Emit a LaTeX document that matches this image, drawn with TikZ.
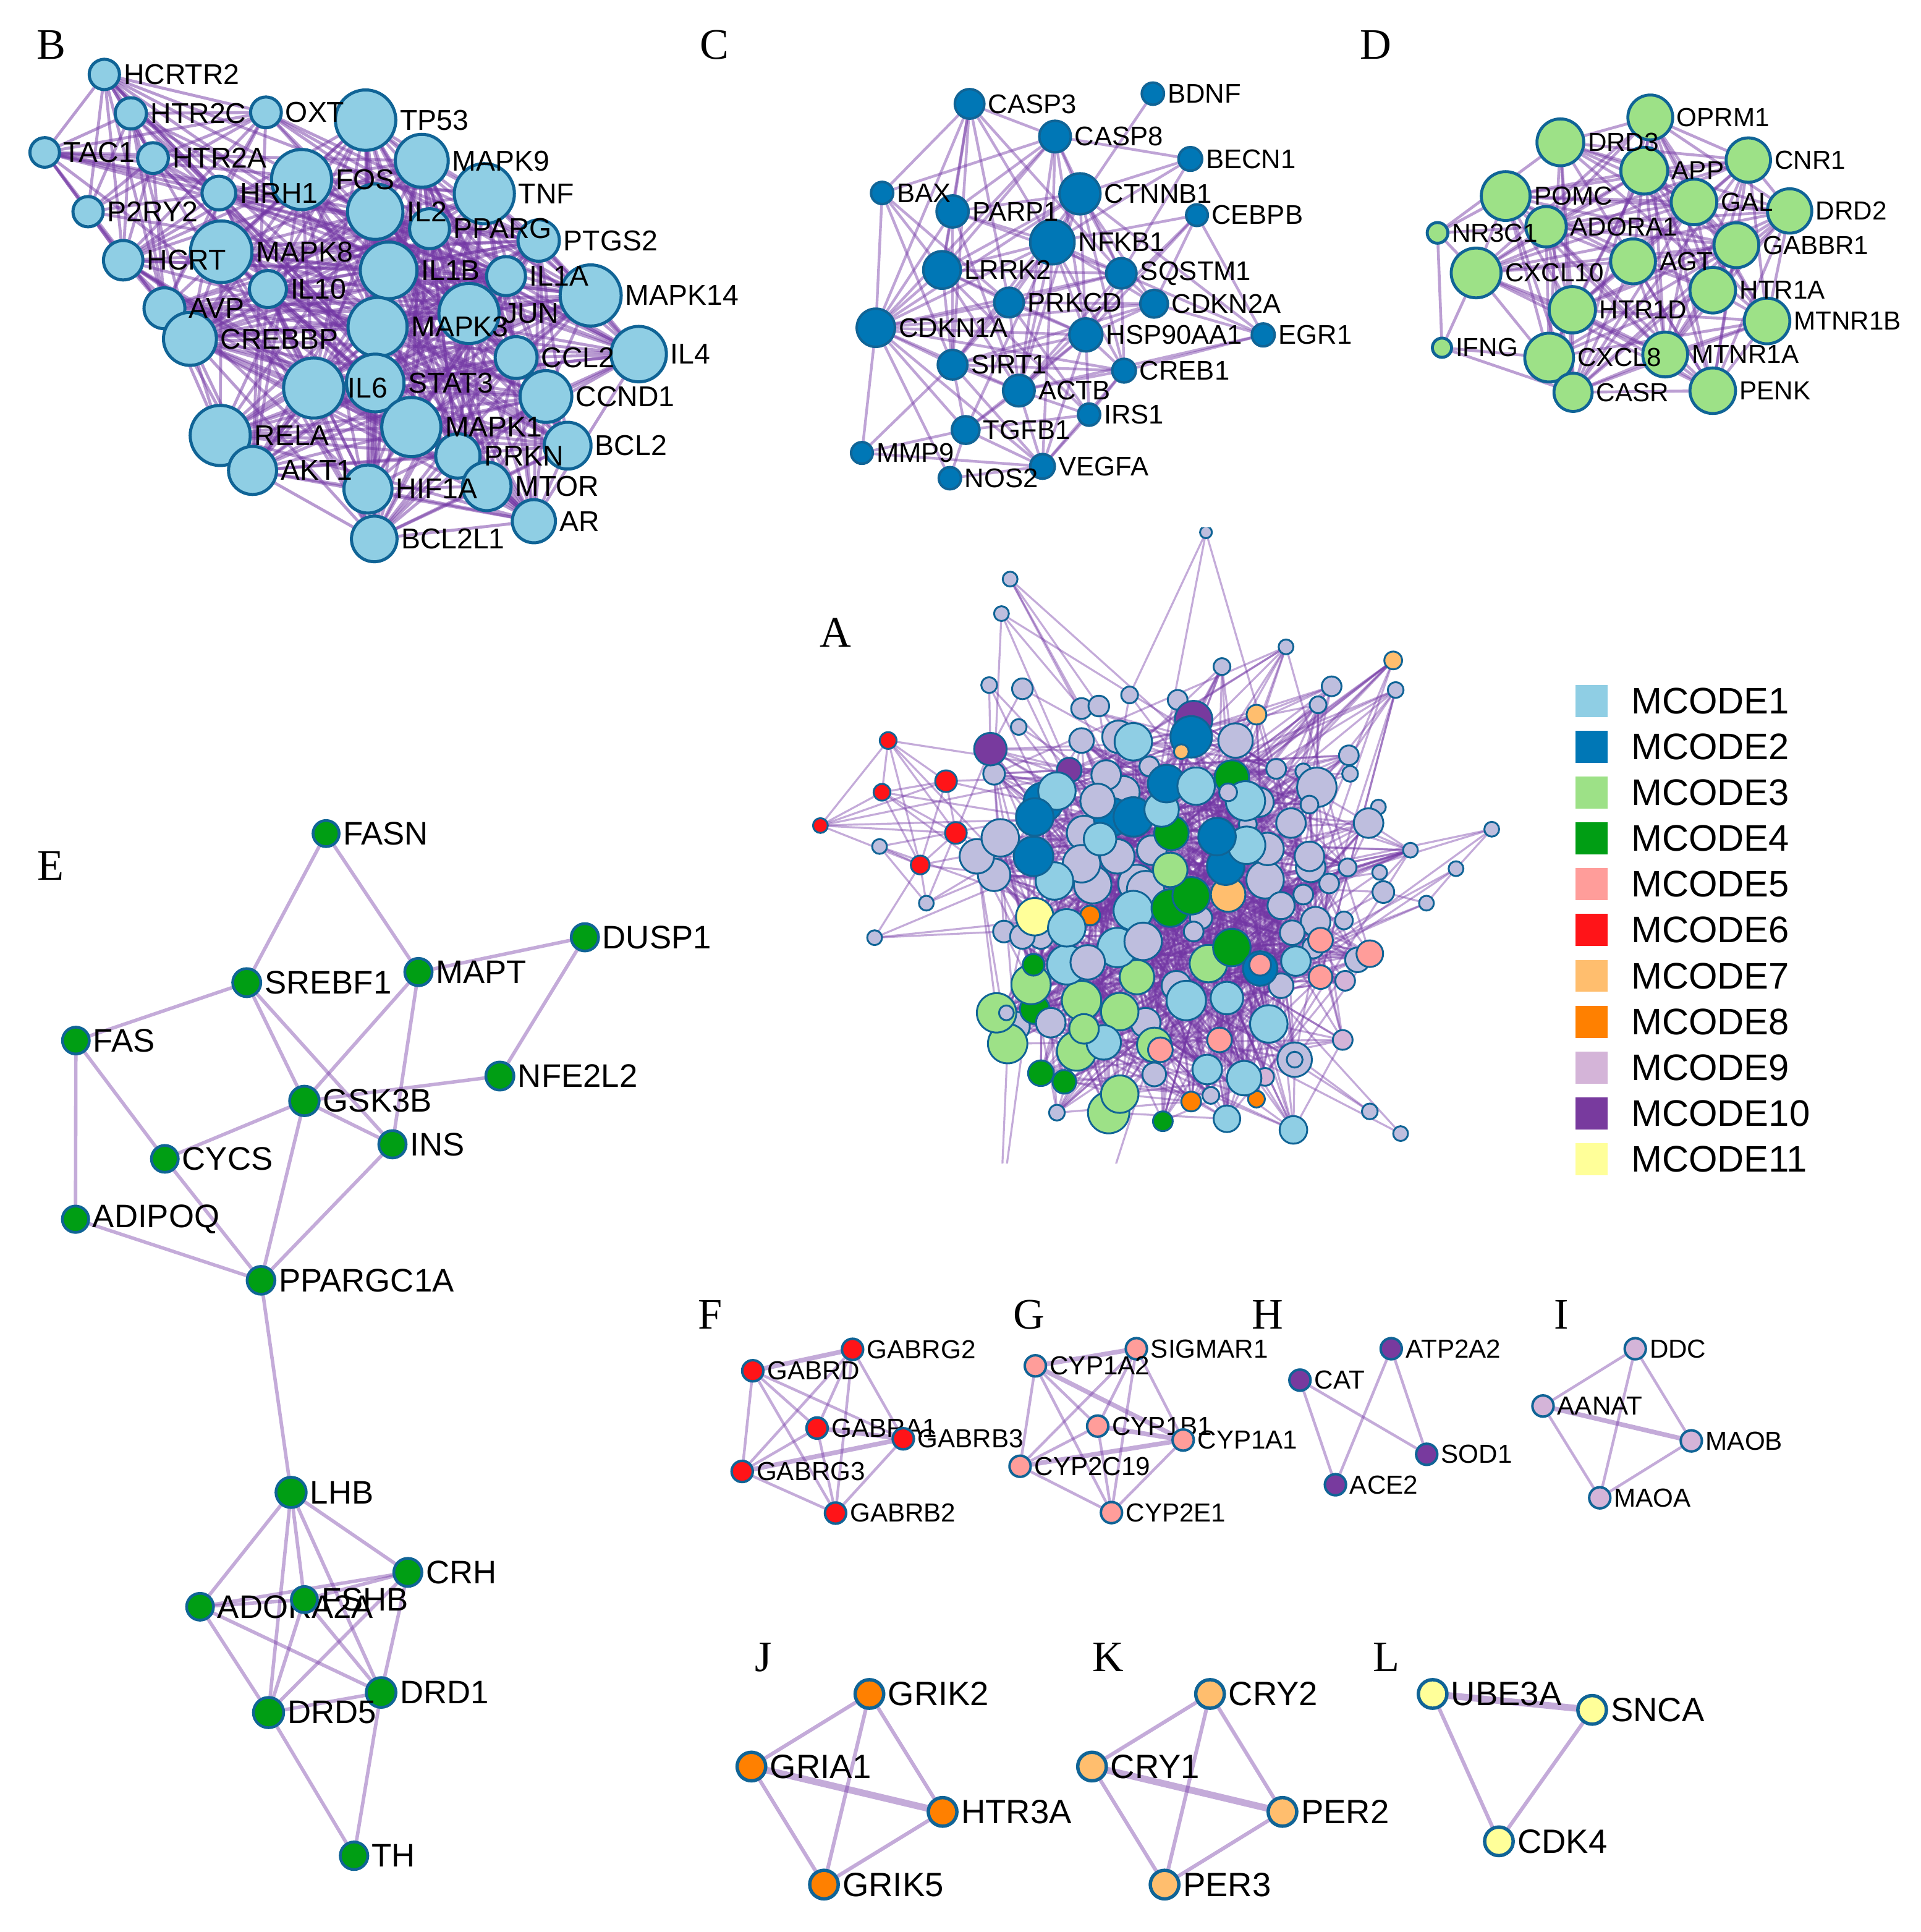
\documentclass[tikz,border=0pt]{standalone}
\usepackage{fontspec}
\setmainfont{Liberation Sans}
\newfontfamily\panelfont{Liberation Serif}
\definecolor{mc1}{RGB}{143,206,228}
\definecolor{mc2}{RGB}{0,119,182}
\definecolor{mc3}{RGB}{157,225,135}
\definecolor{mc4}{RGB}{0,158,20}
\definecolor{mc5}{RGB}{255,157,154}
\definecolor{mc6}{RGB}{255,20,24}
\definecolor{mc7}{RGB}{255,190,110}
\definecolor{mc8}{RGB}{255,128,0}
\definecolor{mc9}{RGB}{212,180,216}
\definecolor{mc10}{RGB}{120,58,158}
\definecolor{mc11}{RGB}{255,255,153}
\definecolor{oth}{RGB}{190,190,222}
\definecolor{bord}{RGB}{16,100,150}
\definecolor{edgec}{RGB}{115,55,165}
\pgfdeclarelayer{bottom}
\pgfdeclarelayer{edges}
\pgfsetlayers{bottom,edges,main}
\begin{document}
\begin{tikzpicture}[x=0.01993cm,y=-0.01993cm,
 sz/.style={minimum size={2*#1*0.01993cm}},
 gnode/.style={circle,draw=bord,inner sep=0pt},
 bnode/.style={gnode,fill=mc1,line width=0.05cm},
 cnode/.style={gnode,fill=mc2,line width=0.04cm},
 dnode/.style={gnode,fill=mc3,line width=0.048cm},
 anode/.style={gnode,line width=0.03cm},
 enode/.style={gnode,fill=mc4,line width=0.045cm},
 fnode/.style={gnode,line width=0.04cm,sz=8.6},
 jnode/.style={gnode,line width=0.055cm,sz=11.6},
 lbB/.style={font=\fontsize{13.2}{15}\selectfont,inner sep=1pt,anchor=west},
 lbC/.style={font=\fontsize{12.4}{14}\selectfont,inner sep=1pt,anchor=west},
 lbD/.style={font=\fontsize{12}{14}\selectfont,inner sep=1pt,anchor=west},
 lbE/.style={font=\fontsize{15}{17}\selectfont,inner sep=1pt},
 lbF/.style={font=\fontsize{12}{14}\selectfont,inner sep=1pt},
 lbJ/.style={font=\fontsize{15.5}{17}\selectfont,inner sep=1pt},
 pl/.style={font=\panelfont\fontsize{20}{24}\selectfont,anchor=base west,inner sep=0pt},
 bedge/.style={draw=edgec,opacity=0.5,line width=0.048cm},
 cedge/.style={draw=edgec,opacity=0.45,line width=0.044cm},
 dedge/.style={draw=edgec,opacity=0.48,line width=0.046cm},
 aedge/.style={draw=edgec,opacity=0.42,line width=0.032cm},
 eedge/.style={draw=edgec,opacity=0.42,line width=0.056cm},
 fedge/.style={draw=edgec,opacity=0.42,line width=0.044cm},
 fthick/.style={draw=edgec,opacity=0.42,line width=0.075cm},
 jedge/.style={draw=edgec,opacity=0.42,line width=0.06cm},
 jthick/.style={draw=edgec,opacity=0.42,line width=0.11cm}
]
\begin{pgfonlayer}{bottom}
\fill[white] (0,0) rectangle (1559,1568);
\end{pgfonlayer}
\path[use as bounding box] (0,0) rectangle (1559,1568);

% ---------------- panel letters
\node[pl] (pB) at (29.3,48) {B};
\node[pl] (pC) at (568,48) {C};
\node[pl] (pD) at (1104,48) {D};
\node[pl] (pA) at (665.2,525) {A};
\node[pl] (pE) at (29.9,714) {E};
\node[pl] (pF) at (566.3,1078.5) {F};
\node[pl] (pG) at (822.3,1078.5) {G};
\node[pl] (pH) at (1016,1078.5) {H};
\node[pl] (pI) at (1261.3,1078.5) {I};
\node[pl] (pJ) at (612.6,1356.4) {J};
\node[pl] (pK) at (886.5,1356.4) {K};
\node[pl] (pL) at (1114.4,1356.4) {L};

% ---------------- panel B
\def\Blist{HCRTR2/84.7/60.4/12.3, HTR2C/106.2/92/12.7, OXT/215.9/91.2/12.5, TAC1/36.3/123.7/12, HTR2A/124.2/128.3/12.5, P2RY2/71.5/171.8/12.3, HRH1/177.7/156.7/13.7, HCRT/100/211.2/16, AVP/133.5/250.2/16.6, TP53/296.8/97.5/24.5, FOS/244.8/145.7/24.4, MAPK9/342.4/130.5/21.5, TNF/393.2/157.2/24.4, PPARG/348.7/185.6/16.2, IL2/304.6/171.8/22.5, PTGS2/437.3/195.2/16.8, MAPK8/179.6/204.3/25, IL1B/315.5/219.4/23, IL1A/410.8/224.1/15.8, IL10/217.5/234.6/15, MAPK14/479.5/239.8/24.8, JUN/380.7/254.4/24.4, MAPK3/306.5/265.4/24, CREBBP/154.2/275/21.5, CCL2/419/290.2/17, IL4/518.5/287.4/22.5, STAT3/304.6/310.8/23.4, IL6/254.6/314.9/24.4, CCND1/443.2/321.8/21, RELA/178.8/353.4/24.4, MAPK1/333.9/346.6/24, BCL2/460.8/361.7/19, PRKN/371.7/370/18, AKT1/205/381.8/19.5, HIF1A/298.7/396.9/19.5, MTOR/395.2/394.7/19.7, AR/433.4/423/17.5, BCL2L1/303.8/437.4/18.5}
\foreach \nm/\x/\y/\rr [count=\nn] in \Blist {
  \node[bnode,sz=\rr] (b\nn) at (\x,\y) {};
}
\foreach \nm/\x/\y/\rr [count=\nn] in \Blist {
  \node[lbB] (bl\nn) at (b\nn.east) {\nm};
}

% ---------------- panel C
\def\Clist{CASP3/787.1/84.3/12, BDNF/935.9/76/9, CASP8/856.5/110.8/12.8, BECN1/966.3/129/9.6, BAX/716.1/156.6/9, CTNNB1/876.7/157.3/16.6, PARP1/773.3/171.6/13, CEBPB/971.7/174.6/8.8, NFKB1/854.3/196.5/18, LRRK2/764.7/219.1/15.2, SQSTM1/910.3/221.8/12.3, PRKCD/819.1/245.5/12, CDKN2A/936.9/246.5/11.2, CDKN1A/711/266/15.5, HSP90AA1/881.5/271.8/13.4, EGR1/1025.5/271.8/9.3, SIRT1/773.3/296/12, CREB1/912.5/300.8/9.6, ACTB/827.1/317/12.8, IRS1/884.1/336.5/9, TGFB1/783.9/349/11.2, MMP9/699.7/367.6/8.8, NOS2/771.1/388.1/9, VEGFA/846.3/378.5/10}
\foreach \nm/\x/\y/\rr in \Clist {
  \node[cnode,sz=\rr] (\nm) at (\x,\y) {};
}
\foreach \nm/\x/\y/\rr in \Clist {
  \node[lbC] (cl\nm) at (\nm.east) {\nm};
}

% ---------------- panel D
\def\Dlist{OPRM1/1339.7/95.3/18.2, DRD3/1266.7/115.5/19, CNR1/1419.3/129.9/18, APP/1334.8/138.5/19, POMC/1222.3/159.1/19.8, GAL/1375.2/163.9/18.5, DRD2/1452.8/171.2/18, ADORA1/1255.1/184/16.4, GABBR1/1409.6/199/18.2, CXCL10/1198.3/221.5/20.2, AGT/1325.7/212.1/18.2, HTR1A/1390.4/235.5/18.5, HTR1D/1276.4/251.4/18.8, MTNR1B/1434.5/260.5/18.5, CXCL8/1257.6/290.2/19.8, MTNR1A/1351.8/287.7/18.2, CASR/1277/318.4/15.5, PENK/1390.4/317.1/18.5, NR3C1/1167/189/8.4, IFNG/1170.6/282.2/7.8}
\foreach \nm/\x/\y/\rr [count=\nn] in \Dlist {
  \node[dnode,sz=\rr] (d\nn) at (\x,\y) {};
}
\foreach \nm/\x/\y/\rr [count=\nn] in \Dlist {
  \node[lbD] (dl\nn) at (d\nn.east) {\nm};
}

% ---------------- panel A
\begin{scope}
\clip (640,428) rectangle (1250,944);
\foreach \id/\x/\y/\rr/\cc in {1/979/432/4.8/oth, 2/820/470/6/oth, 3/813/498/6/oth, 4/1044/525/6/oth, 5/1131/536/7.2/mc7, 6/992/541/6.8/oth, 7/1133/560/6.4/oth, 8/1081/557/8/oth, 9/803/556/6.4/oth, 10/830/559/8.4/oth, 11/917/564/6.8/oth, 12/956/568/8/oth, 13/1020/580/8/mc7, 14/1070/572/6.8/oth, 15/878/575/8.4/oth, 16/892/573/8.4/oth, 17/827/590/6.4/oth, 18/721/601/6.8/mc6, 19/768/634/8.8/mc6, 20/716/643/6.8/mc6, 21/776/676/8.8/mc6, 22/666/670/6/mc6, 23/714/687/6/oth, 24/747/702/7.6/mc6, 25/752/733/6/oth, 26/710/761/6/oth, 27/1211/673/6/oth, 28/1182/705/6/oth, 29/1158/733/6/oth, 30/1119/655/6/oth, 31/1095/613/8/oth, 32/1096/628/6.4/oth, 33/1120/708/6/oth, 34/1123/724/8.8/oth, 35/1091/747/7.2/oth, 36/1112/902/6.4/oth, 37/1137/920/6/oth,
 40/1102/779/10/oth, 45/1051/860/14/oth, 57/858/903/6.4/oth, 89/815/756/8.8/oth, 97/1027/714/15.2/oth, 98/1029/689/13.2/oth, 100/1064/704/12/oth, 101/1058/726/8/oth, 102/1079/717/8/oth, 103/1048/668/12/oth, 104/1066/769/8.8/oth, 105/845/760/10/oth, 108/975/745/9/oth, 109/923/717/15.2/oth, 110/887/718/15.2/oth, 112/807/710/13.2/oth, 113/793/695/14/oth, 114/812/680/15.2/oth, 116/807/628/8.8/oth, 122/878/601/10/oth, 123/908/598/13.2/oth, 125/933/622/8/oth, 127/912/643/13.2/oth, 131/880/676/14/oth, 134/1040/735/11/oth, 144/1022/651/12/oth, 146/935/690/12/oth, 147/1036/624/8/oth, 148/1058/626/6.4/oth, 149/1069/639/16/oth, 150/1063/653/7.2/oth, 151/1013/669/7.2/oth, 152/1111/668/12/oth, 153/1063/695/12/oth, 154/1094/704/7.2/oth, 155/1145/690/6/oth, 156/1068/748/12/oth, 157/1049/757/10/oth, 158/1040/800/10/oth, 159/930/722/15.2/oth, 160/907/695/14/oth, 161/955/800/12/oth, 162/830/760/10/oth, 163/878/701/15.2/oth, 165/930/830/12/oth, 166/824/833/12/oth}
 {\node[anode,sz=\rr,fill=\cc] (a\id) at (\x,\y) {};}
\node[anode,sz=6.4,fill=oth] (a45i) at (a45) {};
\foreach \id/\x/\y/\rr/\cc in {38/1090/844/8/mc9, 39/1092/796/8/mc9, 41/1112/774/10.8/mc5, 42/1072/763/10/mc5, 43/1072/793/9.6/mc5, 44/1052/780/12/mc1, 46/1050/917/11.2/mc1, 47/1030/831/15.2/mc1, 48/1027/874/7.2/mc9, 49/1020/892/6.8/mc8, 50/1010/875/14/mc1, 51/980/868/12/mc1, 53/996/908/10.8/mc1, 54/967/894/8/mc8, 55/944/910/8/mc4, 58/900/903/16.8/mc3, 59/909/888/15.2/mc3, 60/845/871/10.4/mc4, 61/864/878/9.6/mc4, 62/818/847/16/mc3, 63/809/822/16/mc3, 65/840/819/12/mc4, 66/837/799/16/mc3, 67/839/783/8.8/mc4, 69/874/853/16/mc3, 70/878/812/16/mc3, 71/909/821/15.2/mc3, 72/896/846/14/mc1, 73/937/848/14/mc3, 74/942/852/10/mc5, 75/923/793/14/mc3, 76/990/844/10/mc5, 77/963/812/16/mc1, 78/996/810/13.2/mc1, 79/981/782/15.2/mc3, 80/1000/769/15.2/mc4, 81/1023/786/14/mc2, 82/1023/783/8.8/mc5, 83/866/783/16/mc1, 86/907/769/16/mc1, 87/885/743/8/mc8, 88/840/744/15.2/mc11, 90/866/753/15.2/mc1, 91/920/739/16/mc1, 92/950/737/15.2/mc4, 93/967/727/15.2/mc4, 95/997/726/14/mc7, 96/995/703/15.2/mc2, 99/1012/686/15.2/mc1, 106/950/706/14/mc3, 107/951/676/14/mc4, 111/856/715/15.2/mc1, 115/839/695/16/mc2, 117/804/608/13.2/mc10, 118/868/625/10/mc10, 119/847/651/16/mc2, 120/858/642/15.2/mc1, 121/840/663/15.2/mc2, 124/920/602/15.2/mc1, 129/903/663/15.2/mc2, 130/920/663/16/mc2, 132/893/681/13.2/mc1, 133/943/657/14/mc1, 135/947/636/15.2/mc2, 136/969/584/15.2/mc10, 137/967/598/16.8/mc2, 138/959/610/6/mc7, 139/1000/631/14/mc4, 141/971/638/15.2/mc1, 143/1011/650/16/mc1, 145/988/679/15.2/mc2, 164/880/835/12/mc3}
 {\node[anode,sz=\rr,fill=\cc] (a\id) at (\x,\y) {};}
\foreach \id/\x/\y/\rr/\cc in {52/983/889/6.8/oth, 56/937/872/9.6/oth, 64/817/822/6/oth, 68/853/830/12/oth, 84/883/781/14/oth, 85/928/764/15.2/oth, 94/969/756/8/oth, 126/898/629/12/oth, 128/891/650/14/oth, 140/1003/601/14/oth, 142/997/643/7.2/oth}
 {\node[anode,sz=\rr,fill=\cc] (a\id) at (\x,\y) {};}
\end{scope}
\coordinate (abot1) at (812,985);
\coordinate (abot2) at (893,985);

% ---------------- legend
\foreach \cc/\txt [count=\k] in {mc1/MCODE1, mc2/MCODE2, mc3/MCODE3, mc4/MCODE4, mc5/MCODE5, mc6/MCODE6, mc7/MCODE7, mc8/MCODE8, mc9/MCODE9, mc10/MCODE10, mc11/MCODE11}{
  \node[rectangle,fill=\cc,minimum size=0.518cm,inner sep=0pt] (lg\k) at (1292,{568.8+37.2*(\k-1)}) {};
  \node[font=\fontsize{17}{20}\selectfont,anchor=west,inner sep=0pt] (lt\k) at (1324,{568.8+37.2*(\k-1)}) {\txt};
}

% ---------------- panel E
\foreach \nm/\x/\y/\rr in {FASN/264.7/676.5/10.6, DUSP1/474.8/760.7/11.1, SREBF1/200.3/797.5/11.4, MAPT/339.7/788.9/11.1, FAS/61.6/844.5/10.9, NFE2L2/405.8/873.3/11.4, GSK3B/247.1/893.5/12, INS/318.6/928.7/11.1, CYCS/133.8/940.5/10.9, ADIPOQ/61.3/989.5/10.7, PPARGC1A/211.9/1039.1/11.3, LHB/236.3/1211.2/12.3, CRH/331.1/1276.1/11.4, ADORA2A/162.4/1304/10.9, FSHB/247.1/1298.2/10.6, DRD1/309.4/1373.6/12.1, DRD5/218/1389.9/12.3, TH/287.4/1506.1/11.2}
 {\node[enode,sz=\rr,label={[lbE]east:\nm}] (\nm) at (\x,\y) {};}

% ---------------- panels F G H I
\foreach \nm/\x/\y/\cc in {GABRG2/692.1/1095.1/mc6, GABRD/611.1/1112.5/mc6, GABRA1/663.3/1159/mc6, GABRB3/733.3/1167.7/mc6, GABRG3/602.5/1194.2/mc6, GABRB2/678.3/1228/mc6,
 SIGMAR1/922.5/1094.6/mc5, CYP1A2/840.5/1108.5/mc5, CYP1B1/891.1/1157.4/mc5, CYP1A1/960.5/1168.7/mc5, CYP2C19/828.1/1190/mc5, CYP2E1/902.3/1227.6/mc5,
 ATP2A2/1129.4/1094.6/mc10, CAT/1055.3/1120.1/mc10, SOD1/1158.2/1180.3/mc10, ACE2/1084.1/1205/mc10,
 DDC/1327.5/1094.6/mc9, AANAT/1252.6/1141.1/mc9, MAOB/1373/1169.4/mc9, MAOA/1298.7/1215.6/mc9}
 {\node[fnode,fill=\cc,label={[lbF]east:\nm}] (\nm) at (\x,\y) {};}

% ---------------- panels J K L
\foreach \nm/\x/\y/\cc in {GRIK2/705.8/1374.8/mc8, GRIA1/610/1433.7/mc8, HTR3A/765.2/1470.5/mc8, GRIK5/668.9/1529.5/mc8,
 CRY2/982.3/1374.8/mc7, CRY1/886.5/1433.7/mc7, PER2/1041.1/1470.5/mc7, PER3/945.4/1529.5/mc7,
 UBE3A/1163/1374.8/mc11, SNCA/1292.5/1387.7/mc11, CDK4/1216.8/1494.4/mc11}
 {\node[jnode,fill=\cc,label={[lbJ]east:\nm}] (\nm) at (\x,\y) {};}

% ================= edges
\begin{pgfonlayer}{edges}
\pgfmathsetseed{4242}
% B
\foreach \i in {1,...,9}{\foreach \j in {1,...,9}{\ifnum\j>\i\relax \draw[bedge] (b\i.center)--(b\j.center);\fi}}
\foreach \i in {1,...,6}{\foreach \j in {10,...,38}{\pgfmathrandominteger{\rnd}{1}{100}\ifnum\rnd<13\relax \draw[bedge] (b\i.center)--(b\j.center);\fi}}
\foreach \i in {7,8,9}{\foreach \j in {10,...,38}{\pgfmathrandominteger{\rnd}{1}{100}\ifnum\rnd<45\relax \draw[bedge] (b\i.center)--(b\j.center);\fi}}
\foreach \i in {10,...,38}{\foreach \j in {10,...,38}{\ifnum\j>\i\relax \pgfmathrandominteger{\rnd}{1}{100}\ifnum\rnd<62\relax \draw[bedge] (b\i.center)--(b\j.center);\fi\fi}}
% C
\foreach \p/\q in {CASP3/CASP8, CASP3/BAX, CASP3/PARP1, CASP3/LRRK2, CASP3/NFKB1, CASP3/SQSTM1, CASP3/PRKCD, CASP3/SIRT1, CASP3/CDKN1A,
 CASP8/BECN1, CASP8/BAX, CASP8/PARP1, CASP8/CTNNB1, CASP8/NFKB1, CASP8/LRRK2, CASP8/HSP90AA1, CASP8/SQSTM1, CASP8/CDKN1A, CASP8/ACTB,
 BDNF/NFKB1, BECN1/CTNNB1, BECN1/SQSTM1, BECN1/NFKB1,
 BAX/CDKN1A, BAX/PRKCD, BAX/SIRT1, BAX/LRRK2,
 CTNNB1/NFKB1, CTNNB1/PARP1, CTNNB1/SQSTM1, CTNNB1/CDKN2A, CTNNB1/HSP90AA1, CTNNB1/LRRK2, CTNNB1/CDKN1A, CTNNB1/ACTB, CTNNB1/EGR1, CTNNB1/CREB1, CTNNB1/SIRT1,
 PARP1/NFKB1, PARP1/LRRK2, PARP1/SQSTM1, PARP1/SIRT1, PARP1/CDKN1A, PARP1/ACTB,
 CEBPB/NFKB1, CEBPB/EGR1, CEBPB/HSP90AA1, CEBPB/CDKN2A, CEBPB/ACTB,
 NFKB1/LRRK2, NFKB1/SQSTM1, NFKB1/PRKCD, NFKB1/HSP90AA1, NFKB1/CDKN1A, NFKB1/SIRT1, NFKB1/ACTB, NFKB1/TGFB1, NFKB1/CREB1, NFKB1/VEGFA, NFKB1/CDKN2A,
 LRRK2/SQSTM1, LRRK2/PRKCD, LRRK2/CDKN1A, LRRK2/SIRT1, LRRK2/ACTB, LRRK2/HSP90AA1, LRRK2/IRS1,
 SQSTM1/PRKCD, SQSTM1/CDKN2A, SQSTM1/HSP90AA1, SQSTM1/EGR1, SQSTM1/ACTB, SQSTM1/CDKN1A, SQSTM1/CREB1,
 PRKCD/CDKN1A, PRKCD/HSP90AA1, PRKCD/SIRT1, PRKCD/ACTB, PRKCD/CDKN2A, PRKCD/IRS1,
 CDKN2A/HSP90AA1, CDKN2A/EGR1, CDKN2A/CDKN1A, CDKN2A/SIRT1,
 CDKN1A/HSP90AA1, CDKN1A/SIRT1, CDKN1A/ACTB, CDKN1A/TGFB1, CDKN1A/NOS2, CDKN1A/CREB1, CDKN1A/VEGFA, CDKN1A/MMP9,
 HSP90AA1/SIRT1, HSP90AA1/ACTB, HSP90AA1/CREB1, HSP90AA1/IRS1, HSP90AA1/VEGFA, HSP90AA1/TGFB1,
 EGR1/ACTB, EGR1/CREB1,
 SIRT1/ACTB, SIRT1/TGFB1, SIRT1/MMP9, SIRT1/CREB1, SIRT1/VEGFA,
 ACTB/CREB1, ACTB/IRS1, ACTB/TGFB1, ACTB/VEGFA,
 CREB1/IRS1, CREB1/VEGFA, TGFB1/MMP9, TGFB1/NOS2, TGFB1/VEGFA, TGFB1/IRS1,
 MMP9/VEGFA, NOS2/VEGFA, IRS1/VEGFA}
 {\draw[cedge] (\p.center)--(\q.center);}
% D
\foreach \i in {1,...,18}{\foreach \j in {1,...,18}{\ifnum\j>\i\relax \pgfmathrandominteger{\rnd}{1}{100}\ifnum\rnd<74\relax \draw[dedge] (d\i.center)--(d\j.center);\fi\fi}}
\foreach \p/\q in {19/5, 19/10, 19/20, 19/8, 19/2, 20/10, 20/15, 20/17}
 {\draw[dedge] (d\p.center)--(d\q.center);}
% A
\begin{scope}
\clip (640,428) rectangle (1250,944);
\foreach \i in {1,...,37}{\foreach \k in {1,2}{\pgfmathrandominteger{\jj}{38}{166}\draw[aedge] (a\i.center)--(a\jj.center);}}
\foreach \i in {5,7,13,31,8,14,4,6}{\foreach \k in {1,...,7}{\pgfmathrandominteger{\jj}{38}{166}\draw[aedge] (a\i.center)--(a\jj.center);}}
\foreach \i in {38,...,166}{\foreach \k in {1,...,6}{\pgfmathrandominteger{\jj}{38}{166}\draw[aedge] (a\i.center)--(a\jj.center);}}
\foreach \p/\q in {18/20, 18/22, 18/19, 18/24, 18/21, 20/22, 20/19, 20/21, 20/24, 22/19, 22/21, 22/24, 19/21, 19/24, 21/24, 23/24, 23/25, 24/25, 26/24, 26/89, 25/112, 1/11, 2/15, 2/16, 3/116, 3/15, 27/28, 28/29, 27/100, 29/34, 30/152, 9/117, 10/117}
 {\draw[aedge] (a\p.center)--(a\q.center);}
\draw[aedge] (abot1)--(a62.center);
\draw[aedge] (abot1)--(a66.center);
\draw[aedge] (abot2)--(a73.center);
\end{scope}
% E
\foreach \p/\q in {FASN/SREBF1, FASN/MAPT, DUSP1/MAPT, DUSP1/NFE2L2, SREBF1/FAS, SREBF1/GSK3B, SREBF1/INS, MAPT/GSK3B, MAPT/INS, FAS/ADIPOQ, FAS/CYCS, NFE2L2/GSK3B, GSK3B/CYCS, GSK3B/INS, GSK3B/PPARGC1A, INS/PPARGC1A, CYCS/PPARGC1A, ADIPOQ/PPARGC1A, PPARGC1A/LHB,
 LHB/ADORA2A, LHB/FSHB, LHB/CRH, LHB/DRD5, LHB/DRD1, CRH/ADORA2A, CRH/FSHB, CRH/DRD5, CRH/DRD1, FSHB/ADORA2A, FSHB/DRD5, FSHB/DRD1, ADORA2A/DRD1, ADORA2A/DRD5, DRD5/DRD1, DRD5/TH, DRD1/TH}
 {\draw[eedge] (\p.center)--(\q.center);}
% F G H I
\foreach \p/\q in {GABRG2/GABRA1, GABRG2/GABRB3, GABRG2/GABRG3, GABRG2/GABRB2, GABRD/GABRA1, GABRD/GABRB3, GABRD/GABRG3, GABRD/GABRB2, GABRA1/GABRG3, GABRA1/GABRB2, GABRB3/GABRB2, GABRG3/GABRB2,
 CYP1A2/CYP1B1, CYP1A2/CYP2C19, CYP1A2/CYP2E1, SIGMAR1/CYP1B1, SIGMAR1/CYP1A1, SIGMAR1/CYP2C19, SIGMAR1/CYP2E1, CYP1B1/CYP2C19, CYP1B1/CYP2E1, CYP1A1/CYP2E1, CYP2C19/CYP2E1,
 CAT/SOD1, CAT/ACE2, ATP2A2/ACE2, ATP2A2/SOD1,
 DDC/AANAT, DDC/MAOB, DDC/MAOA, AANAT/MAOA, MAOB/MAOA}
 {\draw[fedge] (\p.center)--(\q.center);}
\foreach \p/\q in {GABRG2/GABRD, GABRA1/GABRB3, GABRB3/GABRG3, CYP1A2/SIGMAR1, CYP1A2/CYP1A1, CYP1B1/CYP1A1, CYP1A1/CYP2C19, AANAT/MAOB}
 {\draw[fthick] (\p.center)--(\q.center);}
% J K L
\foreach \p/\q in {GRIK2/GRIA1, GRIK2/GRIK5, GRIK2/HTR3A, GRIA1/GRIK5, HTR3A/GRIK5, CRY2/CRY1, CRY2/PER3, CRY2/PER2, CRY1/PER3, PER2/PER3, UBE3A/CDK4, SNCA/CDK4}
 {\draw[jedge] (\p.center)--(\q.center);}
\foreach \p/\q in {GRIA1/HTR3A, CRY1/PER2, UBE3A/SNCA}
 {\draw[jthick] (\p.center)--(\q.center);}
\end{pgfonlayer}
\end{tikzpicture}
\end{document}
